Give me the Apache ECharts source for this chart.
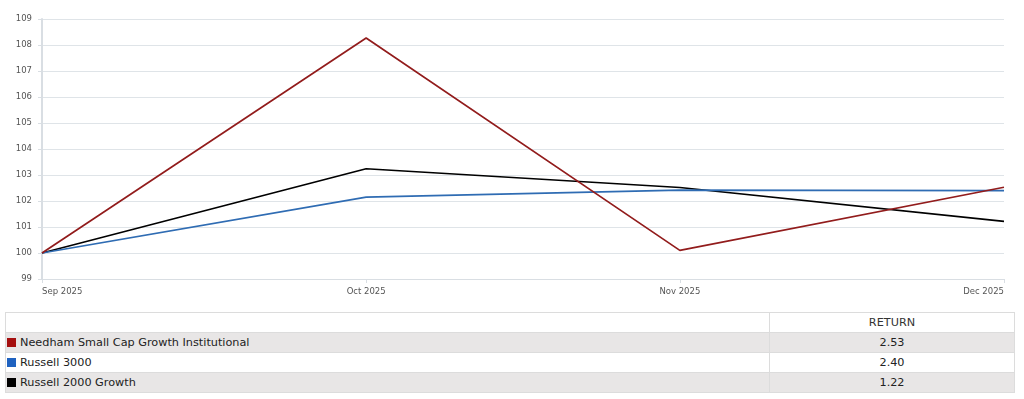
<!DOCTYPE html>
<html>
<head>
<meta charset="utf-8">
<script src="https://cdn.jsdelivr.net/npm/echarts@6/dist/echarts.min.js"></script>
<style>
  body { margin: 0; background: #fff; font-family: "DejaVu Sans", Verdana, sans-serif; }
  #main { position: absolute; left: 0; top: 0; width: 1024px; height: 300px; }
  table { position: absolute; left: 5px; top: 312px; width: 1010px; border-collapse: collapse; font-size: 11.25px; color: #222; }
  td { border: 1px solid #dcdcdc; height: 19px; padding: 0; }
  td.name { width: 763px; padding-left: 0; }
  td.val { text-align: center; }
  tr.odd td { background: #e8e6e6; }
  .sw { display: inline-block; width: 9px; height: 9px; margin: 0 4px 0 1px; vertical-align: -1px; }
</style>
</head>
<body>
<div id="main"></div>
<table id="tbl"></table>
<script>
// month-end dates
const dates = ['2025-09-30', '2025-10-31', '2025-11-30', '2025-12-31'];
const dateLabels = ['Sep 2025', 'Oct 2025', 'Nov 2025', 'Dec 2025'];

const names = ['Needham Small Cap Growth Institutional', 'Russell 3000', 'Russell 2000 Growth'];
const needham = [100, 108.27, 100.10, 102.53];
const russell3000 = [100, 102.15, 102.42, 102.40];
const russell2000g = [100, 103.24, 102.52, 101.22];
const returns = ['2.53', '2.40', '1.22'];
const lineColors = ['#921c1c', '#2f6cb3', '#000000'];
const swatchColors = ['#a50f0f', '#1f62c0', '#000000'];

// x position = days since first date, so spacing follows the calendar
const t0 = Date.UTC(2025, 8, 30);
const days = dates.map(d => Math.round((Date.parse(d) - t0) / 86400000));
const pair = arr => arr.map((v, i) => [days[i], v]);

var myChart = echarts.init(document.getElementById('main'));
var option = {
    animation: false,
    grid: { left: 42, right: 20, top: 19, height: 260 },
    xAxis: {
        type: 'value',
        min: days[0],
        max: days[days.length - 1],
        axisLine: { lineStyle: { color: '#d9dee3', width: 1 } },
        axisTick: { show: true, customValues: days, length: 4, lineStyle: { color: '#d9dee3' } },
        splitLine: { show: false },
        axisLabel: {
            customValues: days,
            color: '#555',
            fontSize: 8.5,
            fontFamily: 'DejaVu Sans',
            margin: 8,
            alignMinLabel: 'left',
            alignMaxLabel: 'right',
            formatter: function (v) {
                var i = days.indexOf(v);
                return i >= 0 ? dateLabels[i] : '';
            }
        }
    },
    yAxis: {
        type: 'value',
        min: 99,
        max: 109,
        interval: 1,
        axisLine: { show: true, lineStyle: { color: '#d9dee3', width: 2 } },
        axisTick: { show: true, length: 4, lineStyle: { color: '#d9dee3' } },
        splitLine: { lineStyle: { color: '#dfe4e8' } },
        axisLabel: { color: '#555', fontSize: 8.5, fontFamily: 'DejaVu Sans', margin: 10 }
    },
    series: [needham, russell3000, russell2000g].map((arr, i) => ({
        name: names[i],
        type: 'line',
        data: pair(arr),
        symbol: 'none',
        z: 3 - i,
        lineStyle: { color: lineColors[i], width: 1.7 },
        itemStyle: { color: lineColors[i] }
    }))
};
myChart.setOption(option);

// returns table
var html = '<tr><td class="name"></td><td class="val" style="color:#333">RETURN</td></tr>';
names.forEach((n, i) => {
    html += '<tr class="' + (i % 2 === 0 ? 'odd' : '') + '"><td class="name"><span class="sw" style="background:' +
        swatchColors[i] + '"></span>' + n + '</td><td class="val">' + returns[i] + '</td></tr>';
});
document.getElementById('tbl').innerHTML = html;
</script>
</body>
</html>
